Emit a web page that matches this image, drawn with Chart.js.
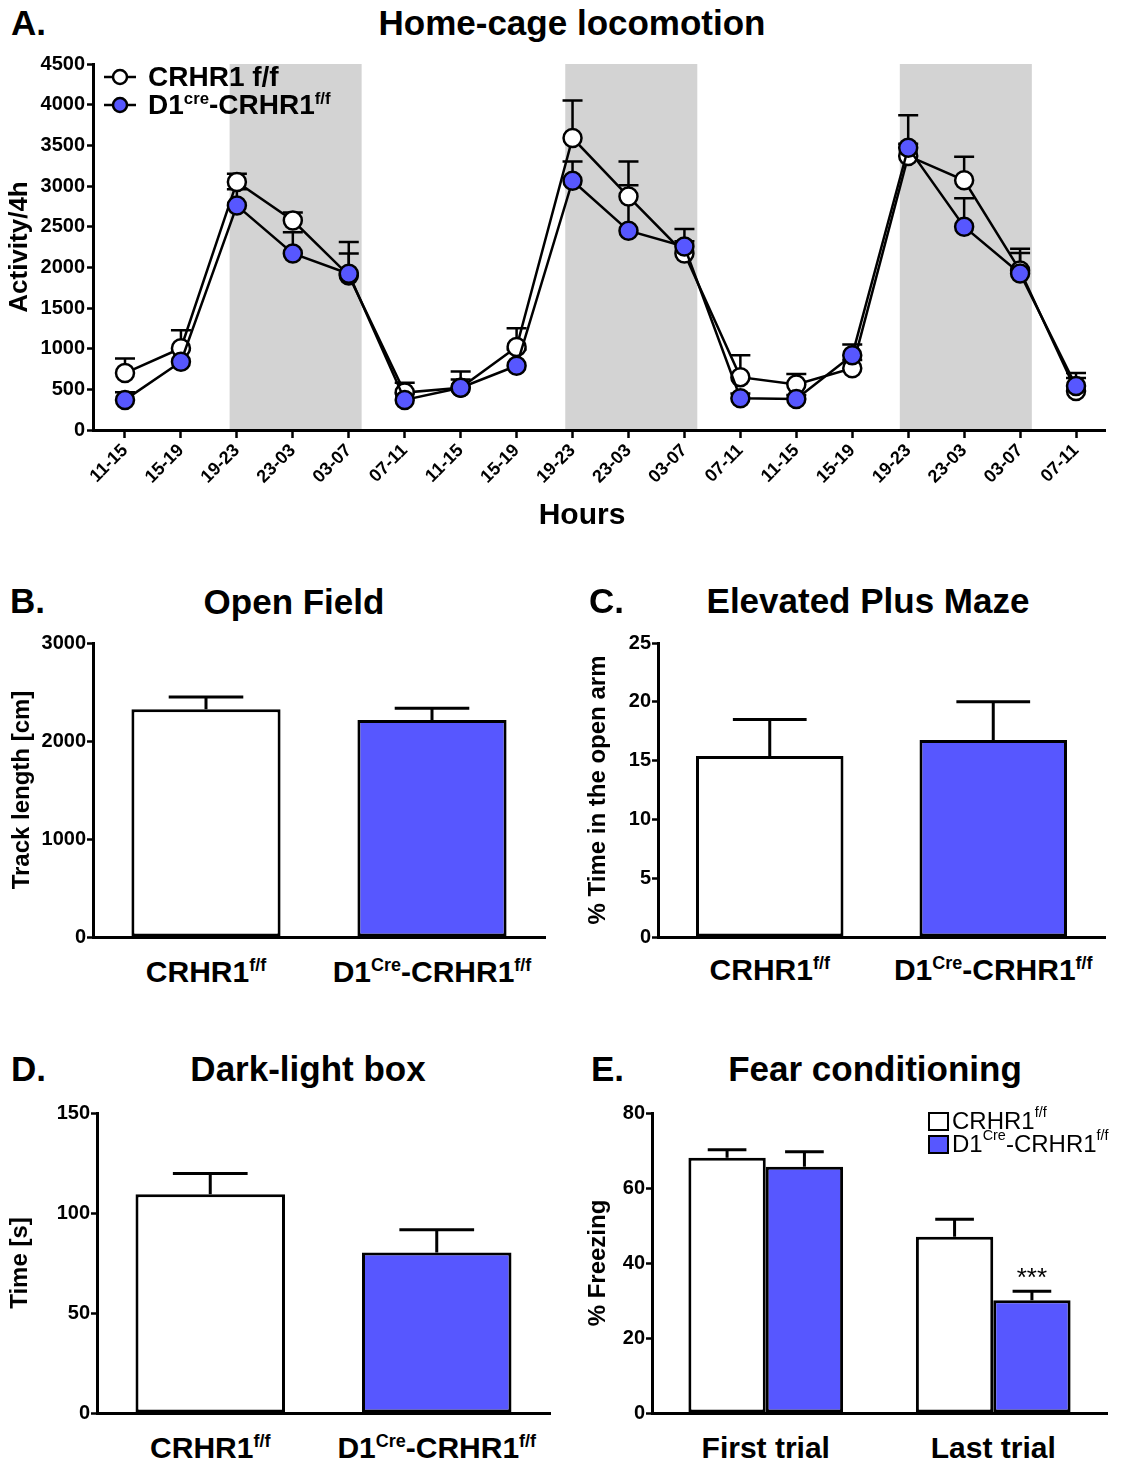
<!DOCTYPE html>
<html>
<head>
<meta charset="utf-8">
<title>CRHR1 behaviour panels</title>
<script src="https://cdn.jsdelivr.net/npm/chart.js@4.4.1/dist/chart.umd.min.js"></script>
<style>
  body { margin: 0; background: #fff; }
  #page { position: relative; width: 1122px; height: 1466px; overflow: hidden;
          font-family: "Liberation Sans", Arial, Helvetica, sans-serif; color: #000; }
  .box { position: absolute; }
  .txt { position: absolute; font-weight: bold; white-space: nowrap; line-height: 1; }
  .c { transform: translate(-50%, -50%); }
  .l { transform: translateY(-50%); }
  sup { font-size: 0.6em; position: relative; top: -0.6em; vertical-align: baseline; line-height: 0; }
  .row { display: flex; align-items: center; }
  .sw { display: inline-block; width: 17px; height: 15px; border: 2.5px solid #000; margin-right: 3px; }
</style>
</head>
<body>
<div id="page">
  <div class="txt l" style="left:11px;top:22px;font-size:35px">A.</div>
  <div class="txt c" style="left:572px;top:22px;font-size:35px">Home-cage locomotion</div>
  <div class="box" style="left:0;top:50px;width:1122px;height:490px"><canvas id="chartA"></canvas></div>
  <div class="txt c" style="left:582px;top:514px;font-size:30px">Hours</div>
  <div class="txt l row" style="left:104px;top:77px;font-size:28px">
    <svg width="32" height="20"><line x1="0" y1="10" x2="32" y2="10" stroke="#000" stroke-width="2.5"/><circle cx="16" cy="10" r="7" fill="#fff" stroke="#000" stroke-width="2.5"/></svg>
    <span style="margin-left:12px">CRHR1 f/f</span>
  </div>
  <div class="txt l row" style="left:104px;top:105px;font-size:28px">
    <svg width="32" height="20"><line x1="0" y1="10" x2="32" y2="10" stroke="#000" stroke-width="2.5"/><circle cx="16" cy="10" r="7" fill="#5757ff" stroke="#000" stroke-width="2.5"/></svg>
    <span style="margin-left:12px">D1<sup>cre</sup>-CRHR1<sup>f/f</sup></span>
  </div>

  <div class="txt l" style="left:10px;top:600px;font-size:35px">B.</div>
  <div class="txt c" style="left:294px;top:601px;font-size:35px">Open Field</div>
  <div class="box" style="left:0;top:620px;width:560px;height:330px"><canvas id="chartB"></canvas></div>

  <div class="txt l" style="left:589px;top:600px;font-size:35px">C.</div>
  <div class="txt c" style="left:868px;top:600px;font-size:35px">Elevated Plus Maze</div>
  <div class="box" style="left:570px;top:620px;width:552px;height:330px"><canvas id="chartC"></canvas></div>

  <div class="txt l" style="left:11px;top:1068px;font-size:35px">D.</div>
  <div class="txt c" style="left:308px;top:1068px;font-size:35px">Dark-light box</div>
  <div class="box" style="left:0;top:1090px;width:560px;height:336px"><canvas id="chartD"></canvas></div>

  <div class="txt l" style="left:591px;top:1068px;font-size:35px">E.</div>
  <div class="txt c" style="left:875px;top:1068px;font-size:35px">Fear conditioning</div>
  <div class="box" style="left:570px;top:1090px;width:552px;height:336px"><canvas id="chartE"></canvas></div>
  <div class="txt l row" style="left:928px;top:1121px;font-size:24px;font-weight:normal">
    <span class="sw" style="background:#fff"></span>CRHR1<sup>f/f</sup>
  </div>
  <div class="txt l row" style="left:928px;top:1144px;font-size:24px;font-weight:normal">
    <span class="sw" style="background:#5757ff"></span>D1<sup>Cre</sup>-CRHR1<sup>f/f</sup>
  </div>
</div>

<script>
// ---- data ----
const hourLabels = ['11-15','15-19','19-23','23-03','03-07','07-11',
                    '11-15','15-19','19-23','23-03','03-07','07-11',
                    '11-15','15-19','19-23','23-03','03-07','07-11'];
const floxActivity    = [700, 1005, 3050, 2575, 1900, 460, 520, 1020, 3590, 2870, 2170, 650, 560, 760, 3370, 3070, 1960, 480];
const floxActivitySem = [180, 220, 100, 100, 410, 120, 200, 230, 460, 430, 150, 270, 130, 100, 150, 290, 270, 220];
const d1Activity      = [370, 840, 2760, 2170, 1920, 370, 520, 790, 3065, 2450, 2255, 390, 380, 920, 3470, 2500, 1925, 540];
const d1ActivitySem   = [95, 150, 200, 260, 250, 80, 100, 200, 235, 560, 215, 60, 50, 130, 400, 350, 250, 100];
// dark phase, in bin index units
const darkPhases = [[1.87, 4.23], [7.87, 10.23], [13.85, 16.21]];

const genotypeLabels = ['CRHR1<sup>f/f</sup>', 'D1<sup>Cre</sup>-CRHR1<sup>f/f</sup>'];
const openFieldMean = [2325, 2215];
const openFieldSem  = [125, 120];
const plusMazeMean  = [15.4, 16.75];
const plusMazeSem   = [3.1, 3.25];
const darkLightMean = [109.4, 80.2];
const darkLightSem  = [10.4, 11.4];

const trialLabels = ['First trial', 'Last trial'];
const fearFlox    = [68.1, 47.0];
const fearFloxSem = [2.1, 4.7];
const fearD1      = [65.7, 30.1];
const fearD1Sem   = [4.0, 2.4];
const fearD1Sig   = ['', '***'];

// ---- style ----
const BLUE = '#5757ff';
const FONT = '"Liberation Sans", Arial, Helvetica, sans-serif';
Chart.defaults.font.family = FONT;
Chart.defaults.font.weight = 'bold';
Chart.defaults.color = '#000';

const page = document.getElementById('page');
const plainNum = v => String(v);

// grey boxes for the dark phases, behind the axes
const darkPhasePlugin = {
  id: 'darkPhases',
  beforeDraw(chart) {
    const {ctx, chartArea, scales: {x}} = chart;
    ctx.save();
    ctx.fillStyle = '#d3d3d3';
    darkPhases.forEach(p => {
      const x0 = x.getPixelForValue(p[0]), x1 = x.getPixelForValue(p[1]);
      ctx.fillRect(x0, chartArea.top, x1 - x0, chartArea.bottom - chartArea.top);
    });
    ctx.restore();
  }
};

// upper SEM bars for the line chart, drawn under the markers
const pointErrorPlugin = {
  id: 'pointErrors',
  beforeDatasetsDraw(chart) {
    const ctx = chart.ctx, y = chart.scales.y;
    ctx.save();
    ctx.strokeStyle = '#000';
    ctx.lineWidth = 2.5;
    chart.data.datasets.forEach((ds, di) => {
      chart.getDatasetMeta(di).data.forEach((pt, i) => {
        const top = y.getPixelForValue(ds.data[i].y + ds.errors[i]);
        ctx.beginPath();
        ctx.moveTo(pt.x, pt.y);
        ctx.lineTo(pt.x, top);
        ctx.moveTo(pt.x - 10, top);
        ctx.lineTo(pt.x + 10, top);
        ctx.stroke();
      });
    });
    ctx.restore();
  }
};

// upper SEM bars on top of bars, plus significance marks
const barErrorPlugin = {
  id: 'barErrors',
  afterDatasetsDraw(chart) {
    const ctx = chart.ctx, y = chart.scales.y;
    ctx.save();
    ctx.strokeStyle = '#000';
    ctx.fillStyle = '#000';
    ctx.lineWidth = 3;
    chart.data.datasets.forEach((ds, di) => {
      chart.getDatasetMeta(di).data.forEach((bar, i) => {
        const top = y.getPixelForValue(ds.data[i] + ds.errors[i]);
        const half = bar.width / 4;
        ctx.beginPath();
        ctx.moveTo(bar.x, bar.y);
        ctx.lineTo(bar.x, top);
        ctx.moveTo(bar.x - half, top);
        ctx.lineTo(bar.x + half, top);
        ctx.stroke();
        if (ds.marks && ds.marks[i]) {
          ctx.font = '26px ' + FONT;
          ctx.textAlign = 'center';
          ctx.textBaseline = 'middle';
          ctx.fillText(ds.marks[i], bar.x, top - 12);
        }
      });
    });
    ctx.restore();
  }
};

// ---- A: home cage ----
const lineCommon = {
  borderColor: '#000', borderWidth: 2.5, tension: 0, fill: false,
  pointRadius: 9, pointBorderWidth: 2.5, pointBorderColor: '#000'
};
new Chart(document.getElementById('chartA'), {
  type: 'line',
  data: {
    datasets: [
      Object.assign({label: 'D1cre-CRHR1f/f', order: 0, pointBackgroundColor: BLUE,
        data: d1Activity.map((v, i) => ({x: i, y: v})), errors: d1ActivitySem}, lineCommon),
      Object.assign({label: 'CRHR1 f/f', order: 1, pointBackgroundColor: '#fff',
        data: floxActivity.map((v, i) => ({x: i, y: v})), errors: floxActivitySem}, lineCommon)
    ]
  },
  options: {
    responsive: true, maintainAspectRatio: false, animation: false, events: [],
    layout: {padding: {top: 13, right: 17, left: 0, bottom: 0}},
    plugins: {legend: {display: false}, tooltip: {enabled: false}},
    scales: {
      x: {
        type: 'linear', min: -0.572, max: 17.518,
        ticks: {stepSize: 1, includeBounds: false, maxTicksLimit: 30, autoSkip: false,
                minRotation: 45, maxRotation: 45, padding: 2, font: {size: 18, weight: 'bold'},
                callback: v => hourLabels[v] || ''},
        grid: {drawOnChartArea: false, tickLength: 8, tickColor: '#000', tickWidth: 2.5},
        border: {color: '#000', width: 3},
        afterFit: s => { s.height = 110; }
      },
      y: {
        min: 0, max: 4500,
        ticks: {stepSize: 500, padding: 2, font: {size: 20, weight: 'bold'}, callback: plainNum},
        grid: {drawOnChartArea: false, tickLength: 6, tickColor: '#000', tickWidth: 2.5},
        border: {color: '#000', width: 3},
        title: {display: true, text: 'Activity/4h', font: {size: 26, weight: 'bold'}, padding: {top: 4, bottom: 0}},
        afterFit: s => { s.width = 93; }
      }
    }
  },
  plugins: [darkPhasePlugin, pointErrorPlugin]
});

// ---- B-E: bar panels ----
function barChart(id, labels, datasets, yMax, yStep, yTitle, yWidth, titlePad, padRight, catPct) {
  return new Chart(document.getElementById(id), {
    type: 'bar',
    data: {labels: labels, datasets: datasets},
    options: {
      responsive: true, maintainAspectRatio: false, animation: false, events: [],
      layout: {padding: {top: 23, right: padRight, left: 0, bottom: 0}},
      plugins: {legend: {display: false}, tooltip: {enabled: false}},
      datasets: {bar: {categoryPercentage: catPct, barPercentage: 1, borderWidth: 3, borderColor: '#000', borderSkipped: false}},
      scales: {
        x: {
          grid: {display: false}, border: {color: '#000', width: 3},
          ticks: {display: false},
          afterFit: s => { s.height = 10; }
        },
        y: {
          min: 0, max: yMax,
          ticks: {stepSize: yStep, padding: 1, font: {size: 20, weight: 'bold'}, callback: plainNum},
          grid: {drawOnChartArea: false, tickLength: 6, tickColor: '#000', tickWidth: 2.5},
          border: {color: '#000', width: 3},
          title: {display: true, text: yTitle, font: {size: 24, weight: 'bold'}, padding: {top: titlePad, bottom: 0}},
          afterFit: s => { s.width = yWidth; }
        }
      }
    },
    plugins: [barErrorPlugin]
  });
}

function placeLabels(chart, boxLeft, texts, centerY) {
  const sx = chart.scales.x;
  texts.forEach((t, i) => {
    const d = document.createElement('div');
    d.className = 'txt c';
    d.style.left = (boxLeft + sx.getPixelForValue(i)) + 'px';
    d.style.top = centerY + 'px';
    d.style.fontSize = '30px';
    d.innerHTML = t;
    page.appendChild(d);
  });
}

const chartB = barChart('chartB', genotypeLabels,
  [{data: openFieldMean, errors: openFieldSem, backgroundColor: ['#fff', BLUE]}],
  3000, 1000, 'Track length [cm]', 93, 8, 15, 0.66);
placeLabels(chartB, 0, genotypeLabels, 972);

const chartC = barChart('chartC', genotypeLabels,
  [{data: plusMazeMean, errors: plusMazeSem, backgroundColor: ['#fff', BLUE]}],
  25, 5, '% Time in the open arm', 88, 14, 17, 0.66);
placeLabels(chartC, 570, genotypeLabels, 970);

const chartD = barChart('chartD', genotypeLabels,
  [{data: darkLightMean, errors: darkLightSem, backgroundColor: ['#fff', BLUE]}],
  150, 50, 'Time [s]', 97, 6, 10, 0.66);
placeLabels(chartD, 0, genotypeLabels, 1448);

const chartE = barChart('chartE', trialLabels,
  [{data: fearFlox, errors: fearFloxSem, backgroundColor: '#fff'},
   {data: fearD1, errors: fearD1Sem, marks: fearD1Sig, backgroundColor: BLUE}],
  80, 20, '% Freezing', 82, 14, 15, 0.68);
placeLabels(chartE, 570, trialLabels, 1448);
</script>
</body>
</html>
